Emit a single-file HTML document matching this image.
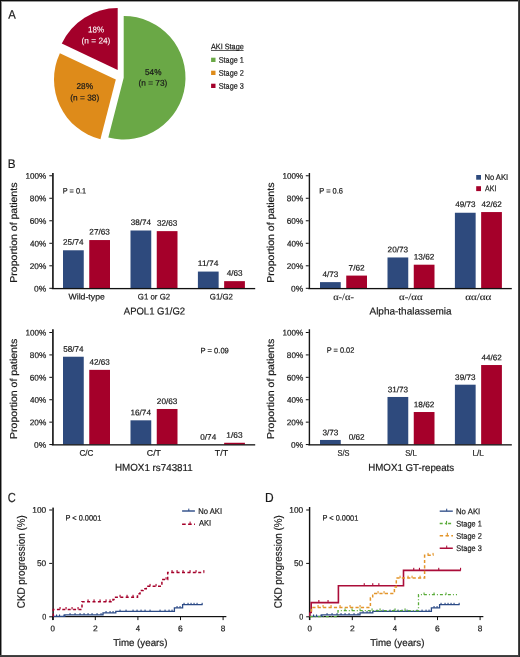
<!DOCTYPE html>
<html><head><meta charset="utf-8"><style>
html,body{margin:0;padding:0;background:#fff;}
svg{display:block;will-change:transform;}
text{font-family:"Liberation Sans",sans-serif;text-rendering:geometricPrecision;}
</style></head><body>
<svg width="520" height="657" viewBox="0 0 520 657">
<rect width="520" height="657" fill="#fff"/>
<path d="M123.70,77.70 L123.70,15.90 A61.8,61.8 0 1 1 108.33,137.56 Z" fill="#6aa846"/>
<path d="M115.80,79.50 L100.43,139.36 A61.8,61.8 0 0 1 59.88,53.19 Z" fill="#de8b1a"/>
<path d="M117.70,69.90 L61.78,43.59 A61.8,61.8 0 0 1 117.70,8.10 Z" fill="#a3002a"/>
<rect x="211" y="50.15" width="32.6" height="0.8" fill="#333"/>
<rect x="211.1" y="57.70" width="4.4" height="4.3" fill="#6aa846"/>
<rect x="211.1" y="70.70" width="4.4" height="4.3" fill="#de8b1a"/>
<rect x="211.1" y="83.70" width="4.4" height="4.3" fill="#a3002a"/>
<rect x="49.30" y="175.25" width="3" height="1" fill="#111"/>
<rect x="49.30" y="197.76" width="3" height="1" fill="#111"/>
<rect x="49.30" y="220.27" width="3" height="1" fill="#111"/>
<rect x="49.30" y="242.78" width="3" height="1" fill="#111"/>
<rect x="49.30" y="265.29" width="3" height="1" fill="#111"/>
<rect x="49.30" y="287.80" width="3" height="1" fill="#111"/>
<rect x="63.00" y="250.28" width="20.75" height="38.02" fill="#2e4a7d"/>
<rect x="89.25" y="240.06" width="20.75" height="48.24" fill="#a5002a"/>
<rect x="130.50" y="230.50" width="20.75" height="57.80" fill="#2e4a7d"/>
<rect x="156.75" y="231.13" width="20.75" height="57.17" fill="#a5002a"/>
<rect x="197.90" y="271.57" width="20.75" height="16.73" fill="#2e4a7d"/>
<rect x="224.15" y="281.15" width="20.75" height="7.15" fill="#a5002a"/>
<rect x="52.00" y="173.00" width="1.8" height="115.90" fill="#2a2a2a"/>
<rect x="51.80" y="287.95" width="203.40" height="1.3" fill="#111"/>
<rect x="305.80" y="175.25" width="3" height="1" fill="#111"/>
<rect x="305.80" y="197.76" width="3" height="1" fill="#111"/>
<rect x="305.80" y="220.27" width="3" height="1" fill="#111"/>
<rect x="305.80" y="242.78" width="3" height="1" fill="#111"/>
<rect x="305.80" y="265.29" width="3" height="1" fill="#111"/>
<rect x="305.80" y="287.80" width="3" height="1" fill="#111"/>
<rect x="320.00" y="282.13" width="20.75" height="6.17" fill="#2e4a7d"/>
<rect x="346.25" y="275.59" width="20.75" height="12.71" fill="#a5002a"/>
<rect x="387.50" y="257.46" width="20.75" height="30.84" fill="#2e4a7d"/>
<rect x="413.75" y="264.70" width="20.75" height="23.60" fill="#a5002a"/>
<rect x="454.90" y="212.75" width="20.75" height="75.55" fill="#2e4a7d"/>
<rect x="481.15" y="212.06" width="20.75" height="76.24" fill="#a5002a"/>
<rect x="308.70" y="173.00" width="1.4" height="115.90" fill="#161616"/>
<rect x="308.30" y="287.95" width="203.50" height="1.3" fill="#111"/>
<rect x="476.2" y="175.0" width="4.8" height="4.7" fill="#2e4a7d"/>
<rect x="476.2" y="186.2" width="4.8" height="4.9" fill="#a5002a"/>
<rect x="49.30" y="332.00" width="3" height="1" fill="#111"/>
<rect x="49.30" y="354.41" width="3" height="1" fill="#111"/>
<rect x="49.30" y="376.82" width="3" height="1" fill="#111"/>
<rect x="49.30" y="399.23" width="3" height="1" fill="#111"/>
<rect x="49.30" y="421.64" width="3" height="1" fill="#111"/>
<rect x="49.30" y="444.05" width="3" height="1" fill="#111"/>
<rect x="63.00" y="356.73" width="20.75" height="87.82" fill="#2e4a7d"/>
<rect x="89.25" y="369.85" width="20.75" height="74.70" fill="#a5002a"/>
<rect x="130.50" y="420.32" width="20.75" height="24.23" fill="#2e4a7d"/>
<rect x="156.75" y="408.98" width="20.75" height="35.57" fill="#a5002a"/>
<rect x="224.15" y="442.77" width="20.75" height="1.78" fill="#a5002a"/>
<rect x="52.00" y="329.25" width="1.8" height="115.90" fill="#2a2a2a"/>
<rect x="51.80" y="444.20" width="203.40" height="1.3" fill="#111"/>
<rect x="305.80" y="332.00" width="3" height="1" fill="#111"/>
<rect x="305.80" y="354.41" width="3" height="1" fill="#111"/>
<rect x="305.80" y="376.82" width="3" height="1" fill="#111"/>
<rect x="305.80" y="399.23" width="3" height="1" fill="#111"/>
<rect x="305.80" y="421.64" width="3" height="1" fill="#111"/>
<rect x="305.80" y="444.05" width="3" height="1" fill="#111"/>
<rect x="320.00" y="439.95" width="20.75" height="4.60" fill="#2e4a7d"/>
<rect x="387.50" y="396.97" width="20.75" height="47.58" fill="#2e4a7d"/>
<rect x="413.75" y="412.02" width="20.75" height="32.53" fill="#a5002a"/>
<rect x="454.90" y="384.69" width="20.75" height="59.86" fill="#2e4a7d"/>
<rect x="481.15" y="365.03" width="20.75" height="79.52" fill="#a5002a"/>
<rect x="308.70" y="329.25" width="1.4" height="115.90" fill="#161616"/>
<rect x="308.30" y="444.20" width="203.50" height="1.3" fill="#111"/>
<rect x="52.25" y="507.6" width="1.7" height="112.4" fill="#2a2a2a"/>
<rect x="52.05" y="616.0" width="174.30" height="1.2" fill="#111"/>
<rect x="49.20" y="509.50" width="3" height="1" fill="#111"/>
<rect x="49.20" y="562.90" width="3" height="1" fill="#111"/>
<rect x="49.20" y="616.30" width="3" height="1" fill="#111"/>
<rect x="52.20" y="616.5" width="1" height="3.6" fill="#111"/>
<rect x="94.80" y="616.5" width="1" height="3.6" fill="#111"/>
<rect x="137.40" y="616.5" width="1" height="3.6" fill="#111"/>
<rect x="180.00" y="616.5" width="1" height="3.6" fill="#111"/>
<rect x="222.60" y="616.5" width="1" height="3.6" fill="#111"/>
<rect x="308.90" y="507.0" width="1.4" height="113.0" fill="#111"/>
<rect x="309.05" y="616.0" width="174.30" height="1.2" fill="#111"/>
<rect x="306.20" y="509.50" width="3" height="1" fill="#111"/>
<rect x="306.20" y="562.90" width="3" height="1" fill="#111"/>
<rect x="306.20" y="616.30" width="3" height="1" fill="#111"/>
<rect x="309.20" y="616.5" width="1" height="3.6" fill="#111"/>
<rect x="351.80" y="616.5" width="1" height="3.6" fill="#111"/>
<rect x="394.40" y="616.5" width="1" height="3.6" fill="#111"/>
<rect x="437.00" y="616.5" width="1" height="3.6" fill="#111"/>
<rect x="479.60" y="616.5" width="1" height="3.6" fill="#111"/>
<path d="M53.20,616.30 L64.80,616.30 L64.80,614.90 L103.00,614.90 L103.00,612.80 L115.80,612.80 L115.80,611.40 L174.40,611.40 L174.40,607.80 L182.60,607.80 L182.60,604.60 L202.60,604.60 L202.60,604.60" fill="none" stroke="#2b4a86" stroke-width="1.3"/>
<rect x="56.00" y="614.50" width="1.1" height="1.80" fill="#2b4a86"/>
<rect x="59.00" y="614.50" width="1.1" height="1.80" fill="#2b4a86"/>
<rect x="63.40" y="614.50" width="1.1" height="1.80" fill="#2b4a86"/>
<rect x="69.50" y="613.10" width="1.1" height="1.80" fill="#2b4a86"/>
<rect x="74.50" y="613.10" width="1.1" height="1.80" fill="#2b4a86"/>
<rect x="79.50" y="613.10" width="1.1" height="1.80" fill="#2b4a86"/>
<rect x="83.50" y="613.10" width="1.1" height="1.80" fill="#2b4a86"/>
<rect x="87.50" y="613.10" width="1.1" height="1.80" fill="#2b4a86"/>
<rect x="91.50" y="613.10" width="1.1" height="1.80" fill="#2b4a86"/>
<rect x="96.50" y="613.10" width="1.1" height="1.80" fill="#2b4a86"/>
<rect x="100.50" y="613.10" width="1.1" height="1.80" fill="#2b4a86"/>
<rect x="105.50" y="611.00" width="1.1" height="1.80" fill="#2b4a86"/>
<rect x="109.50" y="611.00" width="1.1" height="1.80" fill="#2b4a86"/>
<rect x="112.50" y="611.00" width="1.1" height="1.80" fill="#2b4a86"/>
<rect x="119.50" y="609.60" width="1.1" height="1.80" fill="#2b4a86"/>
<rect x="125.50" y="609.60" width="1.1" height="1.80" fill="#2b4a86"/>
<rect x="132.50" y="609.60" width="1.1" height="1.80" fill="#2b4a86"/>
<rect x="136.50" y="609.60" width="1.1" height="1.80" fill="#2b4a86"/>
<rect x="140.50" y="609.60" width="1.1" height="1.80" fill="#2b4a86"/>
<rect x="144.50" y="609.60" width="1.1" height="1.80" fill="#2b4a86"/>
<rect x="149.50" y="609.60" width="1.1" height="1.80" fill="#2b4a86"/>
<rect x="159.50" y="609.60" width="1.1" height="1.80" fill="#2b4a86"/>
<rect x="164.50" y="609.60" width="1.1" height="1.80" fill="#2b4a86"/>
<rect x="168.50" y="609.60" width="1.1" height="1.80" fill="#2b4a86"/>
<rect x="171.50" y="609.60" width="1.1" height="1.80" fill="#2b4a86"/>
<rect x="176.50" y="606.00" width="1.1" height="1.80" fill="#2b4a86"/>
<rect x="179.50" y="606.00" width="1.1" height="1.80" fill="#2b4a86"/>
<rect x="183.50" y="602.80" width="1.1" height="1.80" fill="#2b4a86"/>
<rect x="187.50" y="602.80" width="1.1" height="1.80" fill="#2b4a86"/>
<rect x="190.50" y="602.80" width="1.1" height="1.80" fill="#2b4a86"/>
<rect x="193.50" y="602.80" width="1.1" height="1.80" fill="#2b4a86"/>
<rect x="196.50" y="602.80" width="1.1" height="1.80" fill="#2b4a86"/>
<rect x="201.60" y="602.80" width="1.1" height="1.80" fill="#2b4a86"/>
<path d="M310.20,616.30 L321.80,616.30 L321.80,614.90 L360.00,614.90 L360.00,612.80 L372.80,612.80 L372.80,611.40 L431.40,611.40 L431.40,607.80 L439.60,607.80 L439.60,604.60 L459.60,604.60 L459.60,604.60" fill="none" stroke="#2b4a86" stroke-width="1.3"/>
<rect x="313.00" y="614.50" width="1.1" height="1.80" fill="#2b4a86"/>
<rect x="316.00" y="614.50" width="1.1" height="1.80" fill="#2b4a86"/>
<rect x="320.40" y="614.50" width="1.1" height="1.80" fill="#2b4a86"/>
<rect x="326.50" y="613.10" width="1.1" height="1.80" fill="#2b4a86"/>
<rect x="331.50" y="613.10" width="1.1" height="1.80" fill="#2b4a86"/>
<rect x="336.50" y="613.10" width="1.1" height="1.80" fill="#2b4a86"/>
<rect x="340.50" y="613.10" width="1.1" height="1.80" fill="#2b4a86"/>
<rect x="344.50" y="613.10" width="1.1" height="1.80" fill="#2b4a86"/>
<rect x="348.50" y="613.10" width="1.1" height="1.80" fill="#2b4a86"/>
<rect x="353.50" y="613.10" width="1.1" height="1.80" fill="#2b4a86"/>
<rect x="357.50" y="613.10" width="1.1" height="1.80" fill="#2b4a86"/>
<rect x="362.50" y="611.00" width="1.1" height="1.80" fill="#2b4a86"/>
<rect x="366.50" y="611.00" width="1.1" height="1.80" fill="#2b4a86"/>
<rect x="369.50" y="611.00" width="1.1" height="1.80" fill="#2b4a86"/>
<rect x="376.50" y="609.60" width="1.1" height="1.80" fill="#2b4a86"/>
<rect x="382.50" y="609.60" width="1.1" height="1.80" fill="#2b4a86"/>
<rect x="389.50" y="609.60" width="1.1" height="1.80" fill="#2b4a86"/>
<rect x="393.50" y="609.60" width="1.1" height="1.80" fill="#2b4a86"/>
<rect x="397.50" y="609.60" width="1.1" height="1.80" fill="#2b4a86"/>
<rect x="401.50" y="609.60" width="1.1" height="1.80" fill="#2b4a86"/>
<rect x="406.50" y="609.60" width="1.1" height="1.80" fill="#2b4a86"/>
<rect x="416.50" y="609.60" width="1.1" height="1.80" fill="#2b4a86"/>
<rect x="421.50" y="609.60" width="1.1" height="1.80" fill="#2b4a86"/>
<rect x="425.50" y="609.60" width="1.1" height="1.80" fill="#2b4a86"/>
<rect x="428.50" y="609.60" width="1.1" height="1.80" fill="#2b4a86"/>
<rect x="433.50" y="606.00" width="1.1" height="1.80" fill="#2b4a86"/>
<rect x="436.50" y="606.00" width="1.1" height="1.80" fill="#2b4a86"/>
<rect x="440.50" y="602.80" width="1.1" height="1.80" fill="#2b4a86"/>
<rect x="444.50" y="602.80" width="1.1" height="1.80" fill="#2b4a86"/>
<rect x="447.50" y="602.80" width="1.1" height="1.80" fill="#2b4a86"/>
<rect x="450.50" y="602.80" width="1.1" height="1.80" fill="#2b4a86"/>
<rect x="453.50" y="602.80" width="1.1" height="1.80" fill="#2b4a86"/>
<rect x="458.60" y="602.80" width="1.1" height="1.80" fill="#2b4a86"/>
<path d="M53.30,616.60 L53.30,616.60 L53.30,609.40 L82.00,609.40 L82.00,601.80 L113.00,601.80 L113.00,599.40 L115.60,599.40 L115.60,597.20 L137.50,597.20 L137.50,593.70 L140.00,593.70 L140.00,590.60 L143.00,590.60 L143.00,588.70 L146.30,588.70 L146.30,586.30 L161.90,586.30 L161.90,579.60 L167.70,579.60 L167.70,572.50 L204.20,572.50 L204.20,572.50" fill="none" stroke="#a5002a" stroke-width="1.5" stroke-dasharray="3.0,2.4"/>
<rect x="59.50" y="607.00" width="1.1" height="2.40" fill="#a5002a"/>
<rect x="65.50" y="607.00" width="1.1" height="2.40" fill="#a5002a"/>
<rect x="71.50" y="607.00" width="1.1" height="2.40" fill="#a5002a"/>
<rect x="77.50" y="607.00" width="1.1" height="2.40" fill="#a5002a"/>
<rect x="87.50" y="599.40" width="1.1" height="2.40" fill="#a5002a"/>
<rect x="93.50" y="599.40" width="1.1" height="2.40" fill="#a5002a"/>
<rect x="99.50" y="599.40" width="1.1" height="2.40" fill="#a5002a"/>
<rect x="105.50" y="599.40" width="1.1" height="2.40" fill="#a5002a"/>
<rect x="109.50" y="599.40" width="1.1" height="2.40" fill="#a5002a"/>
<rect x="119.50" y="594.80" width="1.1" height="2.40" fill="#a5002a"/>
<rect x="126.50" y="594.80" width="1.1" height="2.40" fill="#a5002a"/>
<rect x="132.50" y="594.80" width="1.1" height="2.40" fill="#a5002a"/>
<rect x="149.50" y="583.90" width="1.1" height="2.40" fill="#a5002a"/>
<rect x="155.50" y="583.90" width="1.1" height="2.40" fill="#a5002a"/>
<rect x="165.50" y="577.20" width="1.1" height="2.40" fill="#a5002a"/>
<rect x="171.50" y="570.10" width="1.1" height="2.40" fill="#a5002a"/>
<rect x="176.50" y="570.10" width="1.1" height="2.40" fill="#a5002a"/>
<rect x="182.50" y="570.10" width="1.1" height="2.40" fill="#a5002a"/>
<rect x="189.50" y="570.10" width="1.1" height="2.40" fill="#a5002a"/>
<rect x="195.50" y="570.10" width="1.1" height="2.40" fill="#a5002a"/>
<rect x="203.30" y="570.10" width="1.1" height="2.40" fill="#a5002a"/>
<rect x="182.1" y="510.3" width="12.8" height="1.4" fill="#2b4a86"/>
<rect x="188.3" y="508.6" width="1.0" height="2.4" fill="#2b4a86"/>
<path d="M182.1,524.2 H195" stroke="#a5002a" stroke-width="1.4" stroke-dasharray="3.6,2.4"/>
<rect x="189.6" y="521.6" width="1.0" height="2.8" fill="#a5002a"/>
<path d="M309.80,612.50 L311.20,612.50 L311.20,602.60 L338.40,602.60 L338.40,585.80 L403.50,585.80 L403.50,570.40 L460.80,570.40 L460.80,570.40" fill="none" stroke="#ab0d39" stroke-width="1.6"/>
<rect x="318.30" y="600.00" width="1.1" height="2.60" fill="#ab0d39"/>
<rect x="327.50" y="600.00" width="1.1" height="2.60" fill="#ab0d39"/>
<rect x="363.70" y="583.20" width="1.1" height="2.60" fill="#ab0d39"/>
<rect x="372.20" y="583.20" width="1.1" height="2.60" fill="#ab0d39"/>
<rect x="378.30" y="583.20" width="1.1" height="2.60" fill="#ab0d39"/>
<rect x="413.20" y="567.80" width="1.1" height="2.60" fill="#ab0d39"/>
<rect x="418.90" y="567.80" width="1.1" height="2.60" fill="#ab0d39"/>
<rect x="438.20" y="567.80" width="1.1" height="2.60" fill="#ab0d39"/>
<rect x="460.00" y="567.80" width="1.1" height="2.60" fill="#ab0d39"/>
<path d="M309.8,616.6 V612.5" stroke="#ab0d39" stroke-width="1.6"/>
<path d="M310.50,611.00 L311.50,611.00 L311.50,607.40 L370.40,607.40 L370.40,598.00 L372.70,598.00 L372.70,593.50 L394.40,593.50 L394.40,587.00 L396.30,587.00 L396.30,578.10 L424.60,578.10 L424.60,555.30 L433.50,555.30 L433.50,555.30" fill="none" stroke="#e3952a" stroke-width="1.5" stroke-dasharray="3.2,2.2"/>
<rect x="317.50" y="605.00" width="1.1" height="2.40" fill="#e3952a"/>
<rect x="322.50" y="605.00" width="1.1" height="2.40" fill="#e3952a"/>
<rect x="330.50" y="605.00" width="1.1" height="2.40" fill="#e3952a"/>
<rect x="339.50" y="605.00" width="1.1" height="2.40" fill="#e3952a"/>
<rect x="349.50" y="605.00" width="1.1" height="2.40" fill="#e3952a"/>
<rect x="359.50" y="605.00" width="1.1" height="2.40" fill="#e3952a"/>
<rect x="377.50" y="591.10" width="1.1" height="2.40" fill="#e3952a"/>
<rect x="383.50" y="591.10" width="1.1" height="2.40" fill="#e3952a"/>
<rect x="399.50" y="575.70" width="1.1" height="2.40" fill="#e3952a"/>
<rect x="407.50" y="575.70" width="1.1" height="2.40" fill="#e3952a"/>
<rect x="411.50" y="575.70" width="1.1" height="2.40" fill="#e3952a"/>
<rect x="419.50" y="575.70" width="1.1" height="2.40" fill="#e3952a"/>
<rect x="427.50" y="552.90" width="1.1" height="2.40" fill="#e3952a"/>
<rect x="432.50" y="552.90" width="1.1" height="2.40" fill="#e3952a"/>
<path d="M309.80,616.60 L338.00,616.60 L338.00,610.60 L418.50,610.60 L418.50,594.70 L457.00,594.70 L457.00,594.70" fill="none" stroke="#5aab3a" stroke-width="1.3" stroke-dasharray="3,2,1,2"/>
<rect x="344.50" y="608.40" width="1.1" height="2.20" fill="#5aab3a"/>
<rect x="351.50" y="608.40" width="1.1" height="2.20" fill="#5aab3a"/>
<rect x="359.50" y="608.40" width="1.1" height="2.20" fill="#5aab3a"/>
<rect x="371.50" y="608.40" width="1.1" height="2.20" fill="#5aab3a"/>
<rect x="379.50" y="608.40" width="1.1" height="2.20" fill="#5aab3a"/>
<rect x="394.50" y="608.40" width="1.1" height="2.20" fill="#5aab3a"/>
<rect x="404.50" y="608.40" width="1.1" height="2.20" fill="#5aab3a"/>
<rect x="423.50" y="592.50" width="1.1" height="2.20" fill="#5aab3a"/>
<rect x="433.50" y="592.50" width="1.1" height="2.20" fill="#5aab3a"/>
<rect x="445.50" y="592.50" width="1.1" height="2.20" fill="#5aab3a"/>
<rect x="439.7" y="510.50" width="13.1" height="1.3" fill="#2b4a86"/>
<rect x="446.2" y="508.70" width="1.0" height="2.4" fill="#2b4a86"/>
<path d="M439.7,523.50 H453" stroke="#5aab3a" stroke-width="1.3" stroke-dasharray="3,2.2,1,2.2"/>
<rect x="446.0" y="520.90" width="1.1" height="3.8" fill="#5aab3a"/>
<path d="M439.7,535.80 H453" stroke="#e3952a" stroke-width="1.4" stroke-dasharray="3.4,2.4"/>
<rect x="446.8" y="532.80" width="1.1" height="3.4" fill="#e3952a"/>
<rect x="439.7" y="547.50" width="13.1" height="1.5" fill="#ab0d39"/>
<rect x="446.2" y="545.60" width="1.0" height="2.6" fill="#ab0d39"/>
<rect x="0" y="0" width="520" height="1" fill="#0e0e0e"/>
<rect x="0" y="1" width="520" height="1" fill="#999"/>
<rect x="0" y="0" width="1" height="657" fill="#0e0e0e"/>
<rect x="1" y="1" width="1" height="654" fill="#909090"/>
<rect x="518" y="0" width="1" height="657" fill="#484848"/>
<rect x="519" y="0" width="1" height="657" fill="#2a2a2a"/>
<rect x="0" y="655" width="519" height="1" fill="#454545"/>
<rect x="0" y="656" width="519" height="1" fill="#3a3a3a"/>
<text transform="translate(8.20,18.80) scale(0.9038,1) skewY(0.05)" font-size="12.52" fill="#1a1a1a" stroke="#1a1a1a" stroke-width="0.200" vector-effect="non-scaling-stroke">A</text>
<text transform="translate(88.10,32.40) scale(0.9391,1) skewY(0.05)" font-size="8.53" fill="#fff" stroke="#fff" stroke-width="0.080" vector-effect="non-scaling-stroke">18%</text>
<text transform="translate(81.61,43.40) scale(0.9886,1) skewY(0.05)" font-size="8.39" fill="#fff" stroke="#fff" stroke-width="0.080" vector-effect="non-scaling-stroke">(n = 24)</text>
<text transform="translate(145.04,75.00) scale(0.9602,1) skewY(0.05)" font-size="8.53" fill="#1a1a1a" stroke="#1a1a1a" stroke-width="0.200" vector-effect="non-scaling-stroke">54%</text>
<text transform="translate(138.51,85.80) scale(0.9886,1) skewY(0.05)" font-size="8.39" fill="#1a1a1a" stroke="#1a1a1a" stroke-width="0.200" vector-effect="non-scaling-stroke">(n = 73)</text>
<text transform="translate(76.51,89.10) scale(0.9680,1) skewY(0.05)" font-size="8.53" fill="#1a1a1a" stroke="#1a1a1a" stroke-width="0.200" vector-effect="non-scaling-stroke">28%</text>
<text transform="translate(70.31,100.40) scale(0.9921,1) skewY(0.05)" font-size="8.39" fill="#1a1a1a" stroke="#1a1a1a" stroke-width="0.200" vector-effect="non-scaling-stroke">(n = 38)</text>
<text transform="translate(210.90,49.30) scale(0.9173,1) skewY(0.05)" font-size="7.96" fill="#1a1a1a" stroke="#1a1a1a" stroke-width="0.200" vector-effect="non-scaling-stroke">AKI Stage</text>
<text transform="translate(218.67,62.80) scale(0.8871,1) skewY(0.05)" font-size="8.25" fill="#1a1a1a" stroke="#1a1a1a" stroke-width="0.200" vector-effect="non-scaling-stroke">Stage 1</text>
<text transform="translate(218.67,75.80) scale(0.8871,1) skewY(0.05)" font-size="8.25" fill="#1a1a1a" stroke="#1a1a1a" stroke-width="0.200" vector-effect="non-scaling-stroke">Stage 2</text>
<text transform="translate(218.67,88.80) scale(0.8871,1) skewY(0.05)" font-size="8.25" fill="#1a1a1a" stroke="#1a1a1a" stroke-width="0.200" vector-effect="non-scaling-stroke">Stage 3</text>
<text transform="translate(7.79,167.90) scale(0.9351,1) skewY(0.05)" font-size="12.52" fill="#1a1a1a" stroke="#1a1a1a" stroke-width="0.200" vector-effect="non-scaling-stroke">B</text>
<text transform="translate(25.49,178.85) scale(0.9835,1) skewY(0.05)" font-size="8.25" fill="#1a1a1a" stroke="#1a1a1a" stroke-width="0.200" vector-effect="non-scaling-stroke">100%</text>
<text transform="translate(29.84,201.36) scale(0.9934,1) skewY(0.05)" font-size="8.25" fill="#1a1a1a" stroke="#1a1a1a" stroke-width="0.200" vector-effect="non-scaling-stroke">80%</text>
<text transform="translate(29.71,223.87) scale(1.0014,1) skewY(0.05)" font-size="8.25" fill="#1a1a1a" stroke="#1a1a1a" stroke-width="0.200" vector-effect="non-scaling-stroke">60%</text>
<text transform="translate(29.97,246.38) scale(0.9854,1) skewY(0.05)" font-size="8.25" fill="#1a1a1a" stroke="#1a1a1a" stroke-width="0.200" vector-effect="non-scaling-stroke">40%</text>
<text transform="translate(29.71,268.89) scale(1.0014,1) skewY(0.05)" font-size="8.25" fill="#1a1a1a" stroke="#1a1a1a" stroke-width="0.200" vector-effect="non-scaling-stroke">20%</text>
<text transform="translate(34.04,291.40) scale(1.0246,1) skewY(0.05)" font-size="8.25" fill="#1a1a1a" stroke="#1a1a1a" stroke-width="0.200" vector-effect="non-scaling-stroke">0%</text>
<text transform="translate(17.00,282.72) rotate(-90) scale(1.0583,1) skewY(0.05)" font-size="9.96" fill="#1a1a1a" stroke="#1a1a1a" stroke-width="0.200" vector-effect="non-scaling-stroke">Proportion of patients</text>
<text transform="translate(63.09,244.78) scale(1.0228,1) skewY(0.05)" font-size="7.96" fill="#1a1a1a" stroke="#1a1a1a" stroke-width="0.200" vector-effect="non-scaling-stroke">25/74</text>
<text transform="translate(89.34,234.56) scale(1.0294,1) skewY(0.05)" font-size="7.96" fill="#1a1a1a" stroke="#1a1a1a" stroke-width="0.200" vector-effect="non-scaling-stroke">27/63</text>
<text transform="translate(130.72,225.00) scale(1.0163,1) skewY(0.05)" font-size="7.96" fill="#1a1a1a" stroke="#1a1a1a" stroke-width="0.200" vector-effect="non-scaling-stroke">38/74</text>
<text transform="translate(156.97,225.63) scale(1.0228,1) skewY(0.05)" font-size="7.96" fill="#1a1a1a" stroke="#1a1a1a" stroke-width="0.200" vector-effect="non-scaling-stroke">32/63</text>
<text transform="translate(197.85,266.07) scale(1.0620,1) skewY(0.05)" font-size="7.96" fill="#1a1a1a" stroke="#1a1a1a" stroke-width="0.200" vector-effect="non-scaling-stroke">11/74</text>
<text transform="translate(226.70,275.65) scale(1.0230,1) skewY(0.05)" font-size="7.96" fill="#1a1a1a" stroke="#1a1a1a" stroke-width="0.200" vector-effect="non-scaling-stroke">4/63</text>
<text transform="translate(68.50,299.40) scale(1.0575,1) skewY(0.05)" font-size="8.25" fill="#1a1a1a" stroke="#1a1a1a" stroke-width="0.200" vector-effect="non-scaling-stroke">Wild-type</text>
<text transform="translate(137.83,299.40) scale(0.9517,1) skewY(0.05)" font-size="8.25" fill="#1a1a1a" stroke="#1a1a1a" stroke-width="0.200" vector-effect="non-scaling-stroke">G1 or G2</text>
<text transform="translate(209.83,299.40) scale(0.9500,1) skewY(0.05)" font-size="8.25" fill="#1a1a1a" stroke="#1a1a1a" stroke-width="0.200" vector-effect="non-scaling-stroke">G1/G2</text>
<text transform="translate(123.80,314.50) scale(0.9547,1) skewY(0.05)" font-size="9.96" fill="#1a1a1a" stroke="#1a1a1a" stroke-width="0.200" vector-effect="non-scaling-stroke">APOL1 G1/G2</text>
<text transform="translate(62.83,193.50) scale(0.9345,1) skewY(0.05)" font-size="7.82" fill="#1a1a1a" stroke="#1a1a1a" stroke-width="0.200" vector-effect="non-scaling-stroke">P = 0.1</text>
<text transform="translate(282.49,178.85) scale(0.9835,1) skewY(0.05)" font-size="8.25" fill="#1a1a1a" stroke="#1a1a1a" stroke-width="0.200" vector-effect="non-scaling-stroke">100%</text>
<text transform="translate(286.84,201.36) scale(0.9934,1) skewY(0.05)" font-size="8.25" fill="#1a1a1a" stroke="#1a1a1a" stroke-width="0.200" vector-effect="non-scaling-stroke">80%</text>
<text transform="translate(286.71,223.87) scale(1.0014,1) skewY(0.05)" font-size="8.25" fill="#1a1a1a" stroke="#1a1a1a" stroke-width="0.200" vector-effect="non-scaling-stroke">60%</text>
<text transform="translate(286.97,246.38) scale(0.9854,1) skewY(0.05)" font-size="8.25" fill="#1a1a1a" stroke="#1a1a1a" stroke-width="0.200" vector-effect="non-scaling-stroke">40%</text>
<text transform="translate(286.71,268.89) scale(1.0014,1) skewY(0.05)" font-size="8.25" fill="#1a1a1a" stroke="#1a1a1a" stroke-width="0.200" vector-effect="non-scaling-stroke">20%</text>
<text transform="translate(291.04,291.40) scale(1.0246,1) skewY(0.05)" font-size="8.25" fill="#1a1a1a" stroke="#1a1a1a" stroke-width="0.200" vector-effect="non-scaling-stroke">0%</text>
<text transform="translate(274.00,282.72) rotate(-90) scale(1.0583,1) skewY(0.05)" font-size="9.96" fill="#1a1a1a" stroke="#1a1a1a" stroke-width="0.200" vector-effect="non-scaling-stroke">Proportion of patients</text>
<text transform="translate(322.55,277.03) scale(1.0230,1) skewY(0.05)" font-size="7.96" fill="#1a1a1a" stroke="#1a1a1a" stroke-width="0.200" vector-effect="non-scaling-stroke">4/73</text>
<text transform="translate(348.54,270.49) scale(1.0402,1) skewY(0.05)" font-size="7.96" fill="#1a1a1a" stroke="#1a1a1a" stroke-width="0.200" vector-effect="non-scaling-stroke">7/62</text>
<text transform="translate(387.59,252.36) scale(1.0294,1) skewY(0.05)" font-size="7.96" fill="#1a1a1a" stroke="#1a1a1a" stroke-width="0.200" vector-effect="non-scaling-stroke">20/73</text>
<text transform="translate(413.71,259.60) scale(1.0361,1) skewY(0.05)" font-size="7.96" fill="#1a1a1a" stroke="#1a1a1a" stroke-width="0.200" vector-effect="non-scaling-stroke">13/62</text>
<text transform="translate(455.25,206.90) scale(1.0163,1) skewY(0.05)" font-size="7.96" fill="#1a1a1a" stroke="#1a1a1a" stroke-width="0.200" vector-effect="non-scaling-stroke">49/73</text>
<text transform="translate(481.50,206.90) scale(1.0163,1) skewY(0.05)" font-size="7.96" fill="#1a1a1a" stroke="#1a1a1a" stroke-width="0.200" vector-effect="non-scaling-stroke">42/62</text>
<text transform="translate(333.18,299.90) scale(1.0826,1) skewY(0.05)" font-size="9.60" fill="#1a1a1a" stroke="#1a1a1a" stroke-width="0.100" vector-effect="non-scaling-stroke" style="font-family:&quot;Liberation Serif&quot;,serif">α-/α-</text>
<text transform="translate(399.06,299.90) scale(1.1277,1) skewY(0.05)" font-size="9.60" fill="#1a1a1a" stroke="#1a1a1a" stroke-width="0.100" vector-effect="non-scaling-stroke" style="font-family:&quot;Liberation Serif&quot;,serif">α-/αα</text>
<text transform="translate(465.15,299.90) scale(1.1515,1) skewY(0.05)" font-size="9.60" fill="#1a1a1a" stroke="#1a1a1a" stroke-width="0.100" vector-effect="non-scaling-stroke" style="font-family:&quot;Liberation Serif&quot;,serif">αα/αα</text>
<text transform="translate(369.50,314.50) scale(1.0017,1) skewY(0.05)" font-size="9.96" fill="#1a1a1a" stroke="#1a1a1a" stroke-width="0.200" vector-effect="non-scaling-stroke">Alpha-thalassemia</text>
<text transform="translate(319.21,193.50) scale(0.9594,1) skewY(0.05)" font-size="7.82" fill="#1a1a1a" stroke="#1a1a1a" stroke-width="0.200" vector-effect="non-scaling-stroke">P = 0.6</text>
<text transform="translate(484.40,180.10) scale(0.9255,1) skewY(0.05)" font-size="8.25" fill="#1a1a1a" stroke="#1a1a1a" stroke-width="0.200" vector-effect="non-scaling-stroke">No AKI</text>
<text transform="translate(485.00,191.20) scale(0.8605,1) skewY(0.05)" font-size="8.25" fill="#1a1a1a" stroke="#1a1a1a" stroke-width="0.200" vector-effect="non-scaling-stroke">AKI</text>
<text transform="translate(25.49,335.60) scale(0.9835,1) skewY(0.05)" font-size="8.25" fill="#1a1a1a" stroke="#1a1a1a" stroke-width="0.200" vector-effect="non-scaling-stroke">100%</text>
<text transform="translate(29.84,358.01) scale(0.9934,1) skewY(0.05)" font-size="8.25" fill="#1a1a1a" stroke="#1a1a1a" stroke-width="0.200" vector-effect="non-scaling-stroke">80%</text>
<text transform="translate(29.71,380.42) scale(1.0014,1) skewY(0.05)" font-size="8.25" fill="#1a1a1a" stroke="#1a1a1a" stroke-width="0.200" vector-effect="non-scaling-stroke">60%</text>
<text transform="translate(29.97,402.83) scale(0.9854,1) skewY(0.05)" font-size="8.25" fill="#1a1a1a" stroke="#1a1a1a" stroke-width="0.200" vector-effect="non-scaling-stroke">40%</text>
<text transform="translate(29.71,425.24) scale(1.0014,1) skewY(0.05)" font-size="8.25" fill="#1a1a1a" stroke="#1a1a1a" stroke-width="0.200" vector-effect="non-scaling-stroke">20%</text>
<text transform="translate(34.04,447.65) scale(1.0246,1) skewY(0.05)" font-size="8.25" fill="#1a1a1a" stroke="#1a1a1a" stroke-width="0.200" vector-effect="non-scaling-stroke">0%</text>
<text transform="translate(17.00,438.97) rotate(-90) scale(1.0583,1) skewY(0.05)" font-size="9.96" fill="#1a1a1a" stroke="#1a1a1a" stroke-width="0.200" vector-effect="non-scaling-stroke">Proportion of patients</text>
<text transform="translate(63.22,351.73) scale(1.0163,1) skewY(0.05)" font-size="7.96" fill="#1a1a1a" stroke="#1a1a1a" stroke-width="0.200" vector-effect="non-scaling-stroke">58/74</text>
<text transform="translate(89.60,364.85) scale(1.0163,1) skewY(0.05)" font-size="7.96" fill="#1a1a1a" stroke="#1a1a1a" stroke-width="0.200" vector-effect="non-scaling-stroke">42/63</text>
<text transform="translate(130.46,415.32) scale(1.0294,1) skewY(0.05)" font-size="7.96" fill="#1a1a1a" stroke="#1a1a1a" stroke-width="0.200" vector-effect="non-scaling-stroke">16/74</text>
<text transform="translate(156.84,403.98) scale(1.0294,1) skewY(0.05)" font-size="7.96" fill="#1a1a1a" stroke="#1a1a1a" stroke-width="0.200" vector-effect="non-scaling-stroke">20/63</text>
<text transform="translate(200.32,439.75) scale(1.0230,1) skewY(0.05)" font-size="7.96" fill="#1a1a1a" stroke="#1a1a1a" stroke-width="0.200" vector-effect="non-scaling-stroke">0/74</text>
<text transform="translate(226.30,437.77) scale(1.0490,1) skewY(0.05)" font-size="7.96" fill="#1a1a1a" stroke="#1a1a1a" stroke-width="0.200" vector-effect="non-scaling-stroke">1/63</text>
<text transform="translate(79.52,455.65) scale(0.9754,1) skewY(0.05)" font-size="8.25" fill="#1a1a1a" stroke="#1a1a1a" stroke-width="0.200" vector-effect="non-scaling-stroke">C/C</text>
<text transform="translate(146.79,455.65) scale(1.0658,1) skewY(0.05)" font-size="8.25" fill="#1a1a1a" stroke="#1a1a1a" stroke-width="0.200" vector-effect="non-scaling-stroke">C/T</text>
<text transform="translate(214.76,455.65) scale(1.0744,1) skewY(0.05)" font-size="8.25" fill="#1a1a1a" stroke="#1a1a1a" stroke-width="0.200" vector-effect="non-scaling-stroke">T/T</text>
<text transform="translate(114.93,470.85) scale(0.9863,1) skewY(0.05)" font-size="9.96" fill="#1a1a1a" stroke="#1a1a1a" stroke-width="0.200" vector-effect="non-scaling-stroke">HMOX1 rs743811</text>
<text transform="translate(200.51,353.20) scale(0.9709,1) skewY(0.05)" font-size="7.82" fill="#1a1a1a" stroke="#1a1a1a" stroke-width="0.200" vector-effect="non-scaling-stroke">P = 0.09</text>
<text transform="translate(282.49,335.60) scale(0.9835,1) skewY(0.05)" font-size="8.25" fill="#1a1a1a" stroke="#1a1a1a" stroke-width="0.200" vector-effect="non-scaling-stroke">100%</text>
<text transform="translate(286.84,358.01) scale(0.9934,1) skewY(0.05)" font-size="8.25" fill="#1a1a1a" stroke="#1a1a1a" stroke-width="0.200" vector-effect="non-scaling-stroke">80%</text>
<text transform="translate(286.71,380.42) scale(1.0014,1) skewY(0.05)" font-size="8.25" fill="#1a1a1a" stroke="#1a1a1a" stroke-width="0.200" vector-effect="non-scaling-stroke">60%</text>
<text transform="translate(286.97,402.83) scale(0.9854,1) skewY(0.05)" font-size="8.25" fill="#1a1a1a" stroke="#1a1a1a" stroke-width="0.200" vector-effect="non-scaling-stroke">40%</text>
<text transform="translate(286.71,425.24) scale(1.0014,1) skewY(0.05)" font-size="8.25" fill="#1a1a1a" stroke="#1a1a1a" stroke-width="0.200" vector-effect="non-scaling-stroke">20%</text>
<text transform="translate(291.04,447.65) scale(1.0246,1) skewY(0.05)" font-size="8.25" fill="#1a1a1a" stroke="#1a1a1a" stroke-width="0.200" vector-effect="non-scaling-stroke">0%</text>
<text transform="translate(274.00,438.97) rotate(-90) scale(1.0583,1) skewY(0.05)" font-size="9.96" fill="#1a1a1a" stroke="#1a1a1a" stroke-width="0.200" vector-effect="non-scaling-stroke">Proportion of patients</text>
<text transform="translate(322.42,435.15) scale(1.0315,1) skewY(0.05)" font-size="7.96" fill="#1a1a1a" stroke="#1a1a1a" stroke-width="0.200" vector-effect="non-scaling-stroke">3/73</text>
<text transform="translate(348.67,439.75) scale(1.0315,1) skewY(0.05)" font-size="7.96" fill="#1a1a1a" stroke="#1a1a1a" stroke-width="0.200" vector-effect="non-scaling-stroke">0/62</text>
<text transform="translate(387.72,392.17) scale(1.0228,1) skewY(0.05)" font-size="7.96" fill="#1a1a1a" stroke="#1a1a1a" stroke-width="0.200" vector-effect="non-scaling-stroke">31/73</text>
<text transform="translate(413.71,407.22) scale(1.0361,1) skewY(0.05)" font-size="7.96" fill="#1a1a1a" stroke="#1a1a1a" stroke-width="0.200" vector-effect="non-scaling-stroke">18/62</text>
<text transform="translate(455.12,379.89) scale(1.0228,1) skewY(0.05)" font-size="7.96" fill="#1a1a1a" stroke="#1a1a1a" stroke-width="0.200" vector-effect="non-scaling-stroke">39/73</text>
<text transform="translate(481.50,360.23) scale(1.0163,1) skewY(0.05)" font-size="7.96" fill="#1a1a1a" stroke="#1a1a1a" stroke-width="0.200" vector-effect="non-scaling-stroke">44/62</text>
<text transform="translate(337.57,455.65) scale(0.8982,1) skewY(0.05)" font-size="8.25" fill="#1a1a1a" stroke="#1a1a1a" stroke-width="0.200" vector-effect="non-scaling-stroke">S/S</text>
<text transform="translate(405.16,455.65) scale(0.9397,1) skewY(0.05)" font-size="8.25" fill="#1a1a1a" stroke="#1a1a1a" stroke-width="0.200" vector-effect="non-scaling-stroke">S/L</text>
<text transform="translate(472.46,455.65) scale(0.9984,1) skewY(0.05)" font-size="8.25" fill="#1a1a1a" stroke="#1a1a1a" stroke-width="0.200" vector-effect="non-scaling-stroke">L/L</text>
<text transform="translate(368.24,470.85) scale(0.9772,1) skewY(0.05)" font-size="9.96" fill="#1a1a1a" stroke="#1a1a1a" stroke-width="0.200" vector-effect="non-scaling-stroke">HMOX1 GT-repeats</text>
<text transform="translate(326.72,352.80) scale(0.9462,1) skewY(0.05)" font-size="7.82" fill="#1a1a1a" stroke="#1a1a1a" stroke-width="0.200" vector-effect="non-scaling-stroke">P = 0.02</text>
<text transform="translate(7.78,501.90) scale(0.8470,1) skewY(0.05)" font-size="13.08" fill="#1a1a1a" stroke="#1a1a1a" stroke-width="0.200" vector-effect="non-scaling-stroke">C</text>
<text transform="translate(32.28,512.70) scale(1.0121,1) skewY(0.05)" font-size="8.25" fill="#1a1a1a" stroke="#1a1a1a" stroke-width="0.200" vector-effect="non-scaling-stroke">100</text>
<text transform="translate(36.94,566.10) scale(1.0101,1) skewY(0.05)" font-size="8.25" fill="#1a1a1a" stroke="#1a1a1a" stroke-width="0.200" vector-effect="non-scaling-stroke">50</text>
<text transform="translate(42.17,619.50) scale(0.8728,1) skewY(0.05)" font-size="8.25" fill="#1a1a1a" stroke="#1a1a1a" stroke-width="0.200" vector-effect="non-scaling-stroke">0</text>
<text transform="translate(50.45,631.20) scale(0.9698,1) skewY(0.05)" font-size="8.25" fill="#1a1a1a" stroke="#1a1a1a" stroke-width="0.200" vector-effect="non-scaling-stroke">0</text>
<text transform="translate(92.90,631.20) scale(1.0345,1) skewY(0.05)" font-size="8.25" fill="#1a1a1a" stroke="#1a1a1a" stroke-width="0.200" vector-effect="non-scaling-stroke">2</text>
<text transform="translate(135.78,631.20) scale(0.9404,1) skewY(0.05)" font-size="8.25" fill="#1a1a1a" stroke="#1a1a1a" stroke-width="0.200" vector-effect="non-scaling-stroke">4</text>
<text transform="translate(178.10,631.20) scale(1.0345,1) skewY(0.05)" font-size="8.25" fill="#1a1a1a" stroke="#1a1a1a" stroke-width="0.200" vector-effect="non-scaling-stroke">6</text>
<text transform="translate(220.84,631.20) scale(1.0011,1) skewY(0.05)" font-size="8.25" fill="#1a1a1a" stroke="#1a1a1a" stroke-width="0.200" vector-effect="non-scaling-stroke">8</text>
<text transform="translate(113.15,645.90) scale(0.9777,1) skewY(0.05)" font-size="9.96" fill="#1a1a1a" stroke="#1a1a1a" stroke-width="0.200" vector-effect="non-scaling-stroke">Time (years)</text>
<text transform="translate(24.70,608.16) rotate(-90) scale(0.9114,1) skewY(0.05)" font-size="10.81" fill="#1a1a1a" stroke="#1a1a1a" stroke-width="0.200" vector-effect="non-scaling-stroke">CKD progression (%)</text>
<text transform="translate(65.42,520.60) scale(0.9481,1) skewY(0.05)" font-size="7.82" fill="#1a1a1a" stroke="#1a1a1a" stroke-width="0.200" vector-effect="non-scaling-stroke">P &lt; 0.0001</text>
<text transform="translate(264.96,501.90) scale(0.9156,1) skewY(0.05)" font-size="13.08" fill="#1a1a1a" stroke="#1a1a1a" stroke-width="0.200" vector-effect="non-scaling-stroke">D</text>
<text transform="translate(289.28,512.70) scale(1.0121,1) skewY(0.05)" font-size="8.25" fill="#1a1a1a" stroke="#1a1a1a" stroke-width="0.200" vector-effect="non-scaling-stroke">100</text>
<text transform="translate(293.94,566.10) scale(1.0101,1) skewY(0.05)" font-size="8.25" fill="#1a1a1a" stroke="#1a1a1a" stroke-width="0.200" vector-effect="non-scaling-stroke">50</text>
<text transform="translate(299.17,619.50) scale(0.8728,1) skewY(0.05)" font-size="8.25" fill="#1a1a1a" stroke="#1a1a1a" stroke-width="0.200" vector-effect="non-scaling-stroke">0</text>
<text transform="translate(307.45,631.20) scale(0.9698,1) skewY(0.05)" font-size="8.25" fill="#1a1a1a" stroke="#1a1a1a" stroke-width="0.200" vector-effect="non-scaling-stroke">0</text>
<text transform="translate(349.90,631.20) scale(1.0345,1) skewY(0.05)" font-size="8.25" fill="#1a1a1a" stroke="#1a1a1a" stroke-width="0.200" vector-effect="non-scaling-stroke">2</text>
<text transform="translate(392.78,631.20) scale(0.9404,1) skewY(0.05)" font-size="8.25" fill="#1a1a1a" stroke="#1a1a1a" stroke-width="0.200" vector-effect="non-scaling-stroke">4</text>
<text transform="translate(435.10,631.20) scale(1.0345,1) skewY(0.05)" font-size="8.25" fill="#1a1a1a" stroke="#1a1a1a" stroke-width="0.200" vector-effect="non-scaling-stroke">6</text>
<text transform="translate(477.84,631.20) scale(1.0011,1) skewY(0.05)" font-size="8.25" fill="#1a1a1a" stroke="#1a1a1a" stroke-width="0.200" vector-effect="non-scaling-stroke">8</text>
<text transform="translate(370.15,645.90) scale(0.9777,1) skewY(0.05)" font-size="9.96" fill="#1a1a1a" stroke="#1a1a1a" stroke-width="0.200" vector-effect="non-scaling-stroke">Time (years)</text>
<text transform="translate(281.70,608.16) rotate(-90) scale(0.9114,1) skewY(0.05)" font-size="10.81" fill="#1a1a1a" stroke="#1a1a1a" stroke-width="0.200" vector-effect="non-scaling-stroke">CKD progression (%)</text>
<text transform="translate(322.42,520.60) scale(0.9481,1) skewY(0.05)" font-size="7.82" fill="#1a1a1a" stroke="#1a1a1a" stroke-width="0.200" vector-effect="non-scaling-stroke">P &lt; 0.0001</text>
<text transform="translate(198.30,513.90) scale(0.9255,1) skewY(0.05)" font-size="8.25" fill="#1a1a1a" stroke="#1a1a1a" stroke-width="0.200" vector-effect="non-scaling-stroke">No AKI</text>
<text transform="translate(198.90,525.80) scale(0.9163,1) skewY(0.05)" font-size="8.25" fill="#1a1a1a" stroke="#1a1a1a" stroke-width="0.200" vector-effect="non-scaling-stroke">AKI</text>
<text transform="translate(455.99,514.20) scale(0.9457,1) skewY(0.05)" font-size="8.25" fill="#1a1a1a" stroke="#1a1a1a" stroke-width="0.200" vector-effect="non-scaling-stroke">No AKI</text>
<text transform="translate(456.37,526.50) scale(0.8943,1) skewY(0.05)" font-size="8.25" fill="#1a1a1a" stroke="#1a1a1a" stroke-width="0.200" vector-effect="non-scaling-stroke">Stage 1</text>
<text transform="translate(456.37,538.80) scale(0.8943,1) skewY(0.05)" font-size="8.25" fill="#1a1a1a" stroke="#1a1a1a" stroke-width="0.200" vector-effect="non-scaling-stroke">Stage 2</text>
<text transform="translate(456.37,551.00) scale(0.8943,1) skewY(0.05)" font-size="8.25" fill="#1a1a1a" stroke="#1a1a1a" stroke-width="0.200" vector-effect="non-scaling-stroke">Stage 3</text>
</svg>
</body></html>
